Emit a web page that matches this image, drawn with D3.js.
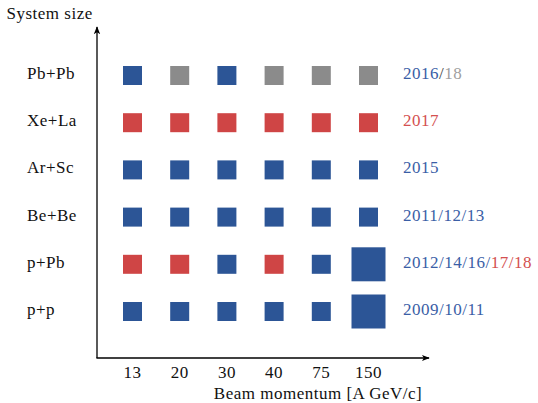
<!DOCTYPE html>
<html><head><meta charset="utf-8">
<script src="https://cdn.jsdelivr.net/npm/d3@7/dist/d3.min.js"></script>
<style>body{margin:0;background:#fff}svg{display:block}</style>
</head><body><svg id="c" width="538" height="403"></svg>
<script>
const momenta = ["13","20","30","40","75","150"];
const systems = ["Pb+Pb","Xe+La","Ar+Sc","Be+Be","p+Pb","p+p"];
// status per system per momentum: d = recorded, p = planned (red), f = future (gray)
const statusPbPb = ["d","f","d","f","f","f"];
const statusXeLa = ["p","p","p","p","p","p"];
const statusArSc = ["d","d","d","d","d","d"];
const statusBeBe = ["d","d","d","d","d","d"];
const statusPPb  = ["p","p","d","p","d","d"];
const statusPP   = ["d","d","d","d","d","d"];
// high-statistics points (larger squares)
const largePoints = [["p+Pb","150"],["p+p","150"]];
const yearLabels = [
  [["2016","d"],["/","k"],["18","f"]],
  [["2017","p"]],
  [["2015","d"]],
  [["2011/12/13","d"]],
  [["2012/14/16/","d"],["17/18","p"]],
  [["2009/10/11","d"]]
];
const statuses = [statusPbPb,statusXeLa,statusArSc,statusBeBe,statusPPb,statusPP];

const fill = {d:"#2c5596", p:"#cf4545", f:"#8b8b8b"};
const textCol = {d:"#3a5ea6", p:"#d45050", f:"#a0a0a0", k:"#444"};
const FONT = "Liberation Serif";
const fs = 17;

const svg = d3.select("#c");
const x = d3.scalePoint().domain(momenta).range([132.5, 368.5]);
const y = d3.scalePoint().domain(systems).range([75.5, 311.5]);

const cells = [];
systems.forEach((s,i)=>momenta.forEach((m,j)=>{
  const big = largePoints.some(p=>p[0]===s&&p[1]===m);
  cells.push({s,m,st:statuses[i][j],size:big?34:19});
}));

svg.selectAll("rect.cell").data(cells).enter().append("rect")
  .attr("class","cell")
  .attr("x",d=>x(d.m)-d.size/2).attr("y",d=>y(d.s)-d.size/2)
  .attr("width",d=>d.size).attr("height",d=>d.size)
  .attr("fill",d=>fill[d.st]);

// axes
svg.append("defs").append("marker").attr("id","ah").attr("viewBox","0 0 10 10")
  .attr("refX",9).attr("refY",5).attr("markerWidth",8).attr("markerHeight",8)
  .attr("markerUnits","userSpaceOnUse").attr("orient","auto")
  .append("path").attr("d","M0,1 L10,5 L0,9 L2.5,5 Z").attr("fill","#000");

svg.append("line").attr("x1",97).attr("y1",358).attr("x2",97).attr("y2",27)
  .attr("stroke","#000").attr("stroke-width",1.3).attr("marker-end","url(#ah)");
svg.append("line").attr("x1",96.4).attr("y1",358).attr("x2",429).attr("y2",358)
  .attr("stroke","#000").attr("stroke-width",1.3).attr("marker-end","url(#ah)");

function T(sel){ return sel.attr("font-family",FONT).attr("font-size",fs).attr("letter-spacing",0.5).attr("fill","#111"); }

T(svg.selectAll("text.xt").data(momenta).enter().append("text").attr("class","xt"))
  .attr("x",d=>x(d)).attr("y",378).attr("text-anchor","middle").text(d=>d);
T(svg.selectAll("text.yt").data(systems).enter().append("text").attr("class","yt"))
  .attr("x",27).attr("y",d=>y(d)+3.5).text(d=>d);

T(svg.append("text")).attr("x",318).attr("y",398.5).attr("text-anchor","middle")
  .text("Beam momentum [A GeV/c]");
T(svg.append("text")).attr("x",6.5).attr("y",18.5).text("System size");

const yl = T(svg.selectAll("text.yl").data(systems).enter().append("text").attr("class","yl"))
  .attr("x",403).attr("y",d=>y(d)+3.5);
yl.each(function(d,i){
  d3.select(this).selectAll("tspan").data(yearLabels[i]).enter().append("tspan")
    .attr("fill",p=>textCol[p[1]]).text(p=>p[0]);
});
</script></body></html>
